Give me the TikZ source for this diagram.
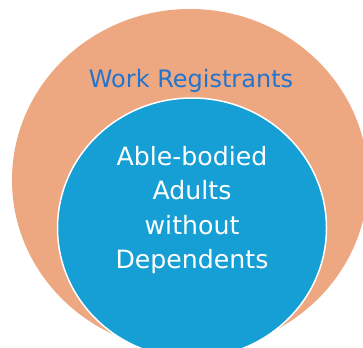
\documentclass[tikz,border=0pt]{standalone}
\usepackage{fontspec}
\setmainfont{DejaVu Sans}
\begin{document}
\begin{tikzpicture}[x=1pt,y=-1pt]
\definecolor{peach}{HTML}{EDA882}
\definecolor{skyblue}{HTML}{159FD4}
\definecolor{labelblue}{HTML}{2274CE}
\tikzset{
  setlabel/.style={inner sep=0pt, align=center},
}
\useasboundingbox[fill=white] (0,0) rectangle (363,347);
\begin{scope}
  \clip (0,0) rectangle (363,347);
  % outer set: work registrants
  \fill[peach] (190,180) ellipse [x radius=178, y radius=171];
  % inner set: ABAWDs
  \filldraw[fill=skyblue, draw=white, line width=1.5pt]
    (192,228) ellipse [x radius=134.5, y radius=130];
\end{scope}
\node[setlabel, text=labelblue, font=\fontsize{24}{28}\selectfont, anchor=base]
  (outerlabel) at (191,88) {Work Registrants};
\node[setlabel, text=white, font=\fontsize{25.2}{34.3}\selectfont]
  (innerlabel) at (192,210) {Able-bodied\\Adults\\without\\Dependents};
\end{tikzpicture}
\end{document}
